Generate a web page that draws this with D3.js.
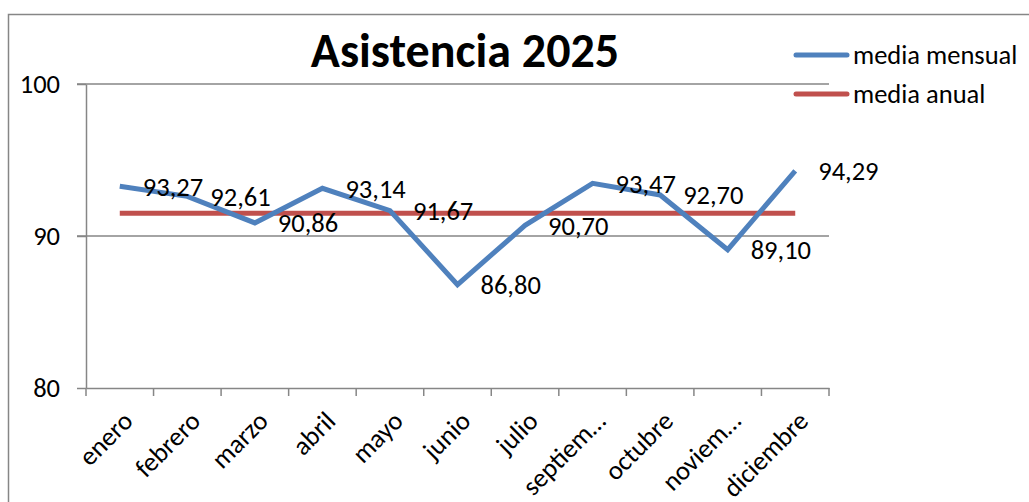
<!DOCTYPE html>
<html>
<head>
<meta charset="utf-8">
<script src="https://cdn.jsdelivr.net/npm/d3@7"></script>
<style>
  body { margin: 0; background: #fff; }
  svg { display: block; font-family: Carlito, Lato, "Open Sans", sans-serif; }
</style>
</head>
<body>
<div id="chart"></div>
<script>
// chart data
const months = ["enero", "febrero", "marzo", "abril", "mayo", "junio", "julio",
                "septiem…", "octubre", "noviem…", "diciembre"];
const monthlyMean = [93.27, 92.61, 90.86, 93.14, 91.67, 86.80, 90.70, 93.47, 92.70, 89.10, 94.29];
const annualMean = [91.5, 91.5, 91.5, 91.5, 91.5, 91.5, 91.5, 91.5, 91.5, 91.5, 91.5];
const yTicks = [80, 90, 100];
const seriesNames = ["media mensual", "media anual"];

const width = 1029;
const height = 502;
const margin = {left: 86, right: 200, top: 84, bottom: 114};
const fontSize = "26.5px";

const svg = d3.select("#chart")
  .append("svg")
  .attr("width", width)
  .attr("height", height);

// outer chart frame
svg.append("rect")
  .attr("x", 8.5).attr("y", 14.5)
  .attr("width", 1100).attr("height", 600)
  .attr("fill", "none")
  .attr("stroke", "#868686")
  .attr("stroke-width", 1.5);

const xScale = d3.scaleBand()
  .domain(months)
  .range([margin.left, width - margin.right]);

const yScale = d3.scaleLinear()
  .domain([80, 100])
  .range([height - margin.bottom, margin.top]);

const xMid = d => xScale(d) + xScale.bandwidth() / 2;

// gridlines
svg.append("g")
  .selectAll("line")
  .data(yTicks.filter(t => t > 80))
  .join("line")
    .attr("x1", margin.left - 9)
    .attr("x2", width - margin.right)
    .attr("y1", d => yScale(d))
    .attr("y2", d => yScale(d))
    .attr("stroke", "#868686")
    .attr("stroke-width", 1.5);

// y axis
const yAxis = svg.append("g")
  .attr("transform", `translate(${margin.left}, 0)`)
  .call(d3.axisLeft(yScale).tickValues(yTicks).tickSize(9).tickSizeOuter(0).tickPadding(17));
yAxis.selectAll("path, line").attr("stroke", "#868686").attr("stroke-width", 1.5);
yAxis.selectAll("text").attr("font-size", fontSize).attr("fill", "#000")
  .attr("font-family", "Carlito, Lato, 'Open Sans', sans-serif");

// x axis
const xAxis = svg.append("g")
  .attr("transform", `translate(0, ${height - margin.bottom})`)
  .call(d3.axisBottom(xScale).tickSize(0).tickSizeOuter(0));
xAxis.select(".domain").attr("stroke", "#868686").attr("stroke-width", 1.5);

// boundary tick marks between categories
svg.append("g")
  .selectAll("line")
  .data(d3.range(months.length + 1))
  .join("line")
    .attr("x1", i => margin.left + i * xScale.bandwidth())
    .attr("x2", i => margin.left + i * xScale.bandwidth())
    .attr("y1", height - margin.bottom)
    .attr("y2", height - margin.bottom + 8)
    .attr("stroke", "#868686")
    .attr("stroke-width", 1.5);

xAxis.selectAll("text")
  .attr("font-size", fontSize)
  .attr("fill", "#000")
  .attr("font-family", "Carlito, Lato, 'Open Sans', sans-serif")
  .attr("text-anchor", "end")
  .attr("dy", "0.35em")
  .attr("transform", "translate(6, 26) rotate(-45)");

// annual mean line
const line = d3.line()
  .x((d, i) => xMid(months[i]))
  .y(d => yScale(d));

svg.append("path")
  .datum(annualMean)
  .attr("d", line)
  .attr("fill", "none")
  .attr("stroke", "#C0504D")
  .attr("stroke-width", 5);

// monthly mean line
svg.append("path")
  .datum(monthlyMean)
  .attr("d", line)
  .attr("fill", "none")
  .attr("stroke", "#4F81BD")
  .attr("stroke-width", 5)
  .attr("stroke-linejoin", "miter");

// data labels (to the right of each point)
svg.append("g")
  .selectAll("text")
  .data(monthlyMean)
  .join("text")
    .attr("x", (d, i) => xMid(months[i]) + 23)
    .attr("y", d => yScale(d))
    .attr("dy", "0.35em")
    .attr("font-size", fontSize)
    .text(d => d.toFixed(2).replace(".", ","));

// title
svg.append("text")
  .attr("x", 465)
  .attr("y", 67)
  .attr("text-anchor", "middle")
  .attr("font-size", "48px")
  .attr("font-weight", "bold")
  .text("Asistencia 2025");

// legend
const legendColors = ["#4F81BD", "#C0504D"];
const legend = svg.append("g")
  .selectAll("g")
  .data(seriesNames)
  .join("g")
    .attr("transform", (d, i) => `translate(796, ${55 + i * 39})`);

legend.append("line")
  .attr("x1", 0).attr("x2", 51)
  .attr("stroke", (d, i) => legendColors[i])
  .attr("stroke-width", 5)
  .attr("stroke-linecap", "round");

legend.append("text")
  .attr("x", 57)
  .attr("dy", "0.35em")
  .attr("font-size", fontSize)
  .text(d => d);
</script>
</body>
</html>
